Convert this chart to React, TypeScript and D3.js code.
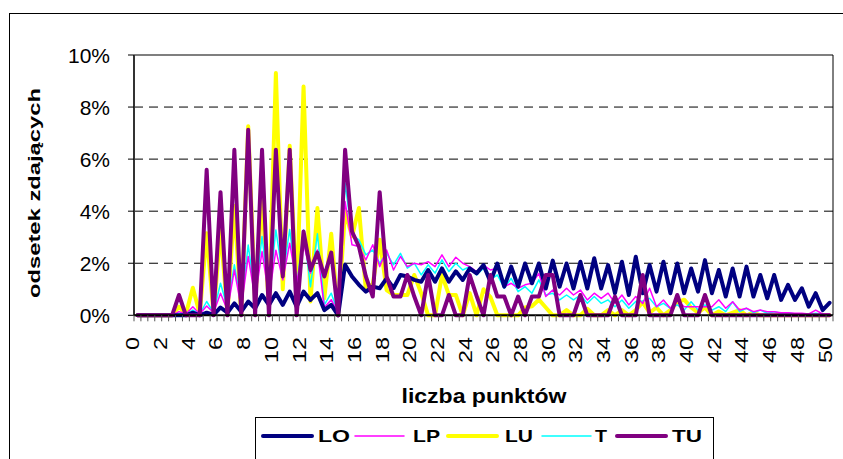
import React from 'react';
import * as d3 from 'd3';

// categories: 0, 0.5, 1, ... 50 points
const categories: number[] = d3.range(0, 50.01, 0.5);
const xTickLabels: string[] = ['0','2','4','6','8','10','12','14','16','18','20','22','24','26','28','30','32','34','36','38','40','42','44','46','48','50'];
const yTicks: number[] = [0, 2, 4, 6, 8, 10];

const LO: number[] = [
  0,0,0,0,0,0,0,0,0.1,0,0.1,0.02,0.3,0.1,0.46,0.14,0.53,0.27,0.78,0.4,
  0.85,0.4,0.91,0.33,0.91,0.59,0.85,0.2,0.4,0,1.94,1.49,1.17,0.91,1.1,1.04,1.42,1.04,1.55,1.49,
  1.36,1.29,1.74,1.29,1.8,1.29,1.69,1.36,1.8,1.61,1.93,1.29,1.99,1.1,1.87,1.1,1.99,1.23,1.99,1.03,
  2.1,1.1,1.99,1.03,2.06,1.03,2.19,1.03,1.93,0.85,2.06,0.78,2.25,0.85,1.93,0.91,2.06,0.85,1.99,0.85,
  1.8,0.91,2.12,0.85,1.74,0.72,1.8,0.72,1.87,0.72,1.55,0.65,1.55,0.59,1.17,0.59,1.04,0.33,0.85,0.2,
  0.48
];
const LP: number[] = [
  0,0,0,0,0,0,0.14,0.05,0.33,0.05,0.36,0.1,0.85,0.2,1.74,0.3,2.26,0.65,2.45,0.72,
  2.5,1.36,2.77,1.23,2.77,1.62,2.51,0.3,0.6,0.1,4.37,2.71,2.64,2.13,2.71,1.87,2.51,1.74,2.26,1.87,
  2.0,1.94,2.06,1.87,2.32,1.87,2.23,2.0,1.87,1.68,1.93,1.74,1.81,1.1,1.23,1.04,1.17,1.23,1.61,0.72,
  0.97,0.78,1.04,0.78,0.97,0.59,0.85,0.65,0.85,0.46,0.78,0.4,0.72,0.45,1.04,0.33,0.59,0.27,0.59,0.33,
  0.33,0.33,0.33,0.33,0.6,0.27,0.52,0.2,0.27,0.14,0.2,0.14,0.14,0.1,0.1,0.08,0.08,0.05,0.2,0.05,
  0.05
];
const LU: number[] = [
  0,0,0,0,0,0,0.33,0.05,1.06,0.05,3.15,0.05,3.3,0.05,4.2,0.05,7.26,0.5,4.5,0.3,
  9.31,1.0,6.51,0.7,8.79,0.53,4.12,0.65,3.13,0,4.0,3.03,4.12,0.97,1.2,2.9,0.97,0.78,0.78,0.78,
  1.55,0.85,0,0,1.55,0.78,0.78,0,0.85,0,1.0,0.7,0,0,0,0,0.3,0.35,0.6,0.3,
  0,0,0.2,0,0,0.25,0,0,0.2,0,0.2,0,0.2,0.5,0.1,0.3,0,0.2,0.5,0.6,
  0.3,0.1,0.3,0,0.15,0,0.1,0.2,0,0.1,0,0,0,0,0,0,0,0,0,0,
  0
];
const T: number[] = [
  0,0,0,0,0,0,0.08,0.05,0.2,0.05,0.53,0.1,1.23,0.3,1.94,0.4,2.7,0.72,3.03,0.72,
  3.28,1.49,3.3,1.1,3.28,1.1,3.13,0.4,0.85,0.1,5.08,3.09,2.9,2.32,2.51,2.0,2.38,1.94,2.38,1.81,
  2.0,1.55,1.94,1.62,2.13,1.68,2.0,1.74,1.87,1.55,1.81,1.36,1.55,1.04,1.42,0.91,1.1,0.85,1.36,0.78,
  0.85,0.59,0.78,0.59,0.78,0.46,0.72,0.46,0.59,0.33,0.59,0.27,0.53,0.55,0.65,0.33,0.46,0.27,0.4,0.2,
  0.52,0.2,0.4,0.2,0.33,0.14,0.52,0.14,0.27,0.1,0.2,0.08,0.14,0.08,0.1,0.05,0.05,0.03,0.08,0.03,
  0.03
];
const TU: number[] = [
  0,0,0,0,0,0,0.78,0,0,0,5.59,0,4.73,0,6.36,0,7.13,0,6.36,0,
  6.36,1.49,6.36,0,3.22,1.74,2.41,1.49,2.41,0,6.36,3.22,2.64,1.49,0.72,4.73,1.49,0.72,0.72,1.55,
  0.72,0,1.55,0,0,0.78,0,0,1.55,0.75,0,1.55,0.72,0.72,0,0.72,0,0.72,0.72,1.55,
  1.55,0,0,0,0.78,0,0,0,0,0.72,0,0,0,1.55,0,0,0,0,0.78,0,
  0,0,0.78,0,0,0,0,0,0,0,0,0,0,0,0,0,0,0,0,0,
  0
];

const seriesNames = ['LO', 'LP', 'LU', 'T', 'TU'];
const seriesColors = ['#000080', '#FF00FF', '#FFFF00', '#00FFFF', '#800080'];
const seriesWidths = [4, 1.5, 4, 1.5, 4];
const seriesData = [LO, LP, LU, T, TU];
const drawOrder = [2, 3, 1, 0, 4];

const W = 843, H = 459;
const plotL = 134, plotR = 833, plotT = 55, plotB = 315.3;

export default function App() {
  const x = d3.scaleBand<number>().domain(d3.range(categories.length)).range([plotL, plotR]).padding(0);
  const bw = x.bandwidth();
  const cx = (i: number) => (x(i) as number) + bw / 2;
  const y = d3.scaleLinear().domain([0, 10]).range([plotB, plotT]);
  const line = d3.line<number>().x((_, i) => cx(i)).y(d => y(d)).curve(d3.curveLinear);

  const font = 'Arial, "Liberation Sans", Helvetica, sans-serif';

  const legendItems = [
    { lx: 263, tx: 318, tl: 32 },
    { lx: 355, tx: 413, tl: 27 },
    { lx: 448, tx: 505, tl: 28 },
    { lx: 542, tx: 595, tl: 12 },
    { lx: 617, tx: 672, tl: 30 },
  ];

  return (
    <div style={{ position: 'absolute', left: 0, top: 0 }}>
      <svg width={W} height={H} style={{ display: 'block', background: '#fff' }} fontFamily={font}>
        <rect x={9.5} y={13.5} width={840} height={460} fill="#fff" stroke="#000" strokeWidth={1} />
        {/* gridlines */}
        {yTicks.filter(t => t > 0 && t < 10).map(t => (
          <line key={'g' + t} x1={plotL} x2={plotR} y1={y(t)} y2={y(t)} stroke="#000" strokeWidth={1} strokeDasharray="9,6" />
        ))}
        {/* plot border top & right */}
        <line x1={plotL} x2={plotR} y1={plotT} y2={plotT} stroke="#000" strokeWidth={1.2} />
        <line x1={plotR} x2={plotR} y1={plotT} y2={plotB} stroke="#000" strokeWidth={1} />
        {/* series */}
        {drawOrder.map(k => (
          <path key={seriesNames[k]} d={line(seriesData[k]) || ''} fill="none" stroke={seriesColors[k]}
            strokeWidth={seriesWidths[k]} strokeLinejoin="round" strokeLinecap="round" />
        ))}
        {/* axes */}
        <line x1={plotL} x2={plotL} y1={plotT} y2={plotB} stroke="#333" strokeWidth={2} />
        <line x1={plotL} x2={plotR} y1={plotB} y2={plotB} stroke="#000" strokeWidth={2} />
        {yTicks.map(t => (
          <g key={'yt' + t}>
            <line x1={plotL - 6} x2={plotL} y1={y(t)} y2={y(t)} stroke="#000" strokeWidth={1} />
            <text x={110} y={y(t) + 7.5} textAnchor="end" fontSize={21} fill="#000">{t + '%'}</text>
          </g>
        ))}
        {d3.range(categories.length + 1).map(i => {
          const xx = plotL + i * bw;
          return <line key={'xt' + i} x1={xx} x2={xx} y1={plotB} y2={plotB + 6} stroke="#555" strokeWidth={1} />;
        })}
        {xTickLabels.map((lab, k) => {
          const xx = cx(k * 4) - 4.5;
          return (
            <text key={'xl' + lab} transform={`translate(${xx},337) rotate(-90) scale(1.3,1)`} textAnchor="end"
              dominantBaseline="central" fontSize={18} fill="#000">{lab}</text>
          );
        })}
        {/* axis titles */}
        <text x={484} y={403} textAnchor="middle" fontSize={21} fontWeight="bold" textLength={165} lengthAdjust="spacingAndGlyphs">liczba punktów</text>
        <text transform="translate(40,193) rotate(-90)" textAnchor="middle" fontSize={17} fontWeight="bold" textLength={210} lengthAdjust="spacingAndGlyphs">odsetek zdających</text>
        {/* legend */}
        <rect x={255.5} y={417.5} width={458} height={60} fill="#fff" stroke="#000" strokeWidth={1} />
        {legendItems.map((it, k) => (
          <g key={'lg' + k}>
            <line x1={it.lx} x2={it.lx + 49} y1={436} y2={436} stroke={seriesColors[k]} strokeWidth={seriesWidths[k]} strokeLinecap="round" />
            <text x={it.tx} y={442} fontSize={17} fontWeight="bold" textLength={it.tl} lengthAdjust="spacingAndGlyphs">{seriesNames[k]}</text>
          </g>
        ))}
      </svg>
    </div>
  );
}
